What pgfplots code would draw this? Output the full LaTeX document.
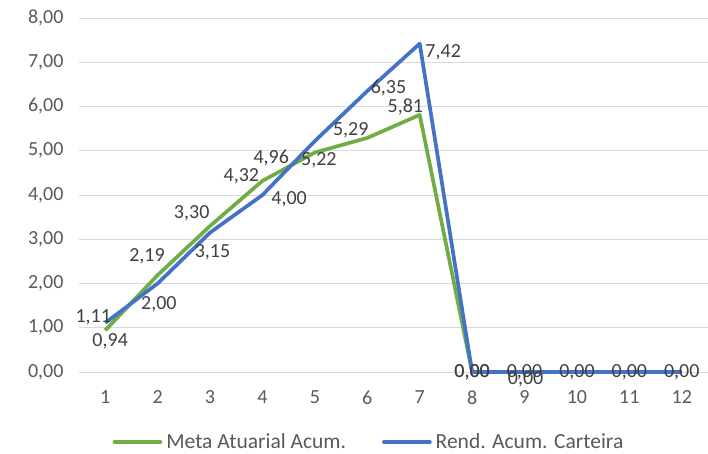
\documentclass[border=0pt]{standalone}
\usepackage{pgfplots}
\pgfplotsset{compat=1.18}
\usepackage{fontspec}
\setmainfont{Carlito}
\definecolor{meta}{HTML}{70AD47}
\definecolor{rend}{HTML}{4472C4}
\definecolor{txt}{HTML}{595959}
\definecolor{lbl}{HTML}{404040}
\definecolor{grd}{HTML}{D9D9D9}
\newcommand{\chartfont}{\fontsize{20}{24}\selectfont}
\newcommand{\legfont}{\fontsize{21.5}{25}\selectfont}

\begin{document}
\begin{tikzpicture}
% page frame as in the reference (axis box is 629 x 354 at the origin)
\useasboundingbox (-79pt,-81pt) rectangle (629pt,372pt);
\begin{axis}[
    at={(0pt,0pt)}, anchor=south west,
    scale only axis,
    width=629pt, height=354pt,
    xmin=0.5, xmax=12.5,
    ymin=0, ymax=8,
    xtick={1,...,12},
    ytick={0,1,...,8},
    axis line style={draw=none},
    major tick length=0pt,
    ymajorgrids,
    grid style={grd, line width=1pt},
    /pgf/number format/assume math mode=true,
    tick label style={font=\chartfont, text=txt},
    yticklabel={\pgfmathprintnumber[fixed,fixed zerofill,precision=2,use comma]{\tick}},
    yticklabel style={xshift=-12pt},
    xticklabel style={yshift=-15pt},
    clip=false,
    legend columns=2,
    legend style={at={(0.461,-0.198)}, anchor=center, draw=none,
        font=\legfont, text=txt,
        /tikz/every odd column/.append style={column sep=2pt},
        /tikz/every even column/.append style={column sep=34pt}},
    legend image code/.code={\draw[#1, line cap=round] (0pt,0pt) -- (46pt,0pt);},
]
\addplot[meta, line width=3.7pt, line join=round] coordinates {
    (1,0.94) (2,2.19) (3,3.30) (4,4.32) (5,4.96) (6,5.29) (7,5.81)
    (8,0) (9,0) (10,0) (11,0) (12,0)
};
\addlegendentry{Meta Atuarial Acum.}

\addplot[rend, line width=3.7pt, line join=round] coordinates {
    (1,1.11) (2,2.00) (3,3.15) (4,4.00) (5,5.22) (6,6.35) (7,7.42)
    (8,0) (9,0) (10,0) (11,0) (12,0)
};
\addlegendentry{Rend. Acum. Carteira}

% data labels, placed where the reference shows them
\addplot[draw=none, forget plot, nodes near coords, point meta=explicit symbolic,
    every node near coord/.style={anchor=center, font=\chartfont, text=lbl}]
    table[meta=label] {
x      y      label
0.772  1.243  1,11
1.095  0.701  0,94
2.024  1.537  2,00
1.797  2.621  2,19
2.650  3.593  3,30
3.048  2.712  3,15
3.598  4.429  4,32
4.508  3.910  4,00
4.167  4.836  4,96
5.077  4.791  5,22
5.684  5.469  5,29
6.405  6.418  6,35
6.727  5.989  5,81
7.448  7.232  7,42
8      0      0,00
8      0      0,00
9      0      0,00
9.02   -0.16  0,00
10     0      0,00
11     0      0,00
12     0      0,00
};
\end{axis}
\end{tikzpicture}
\end{document}
